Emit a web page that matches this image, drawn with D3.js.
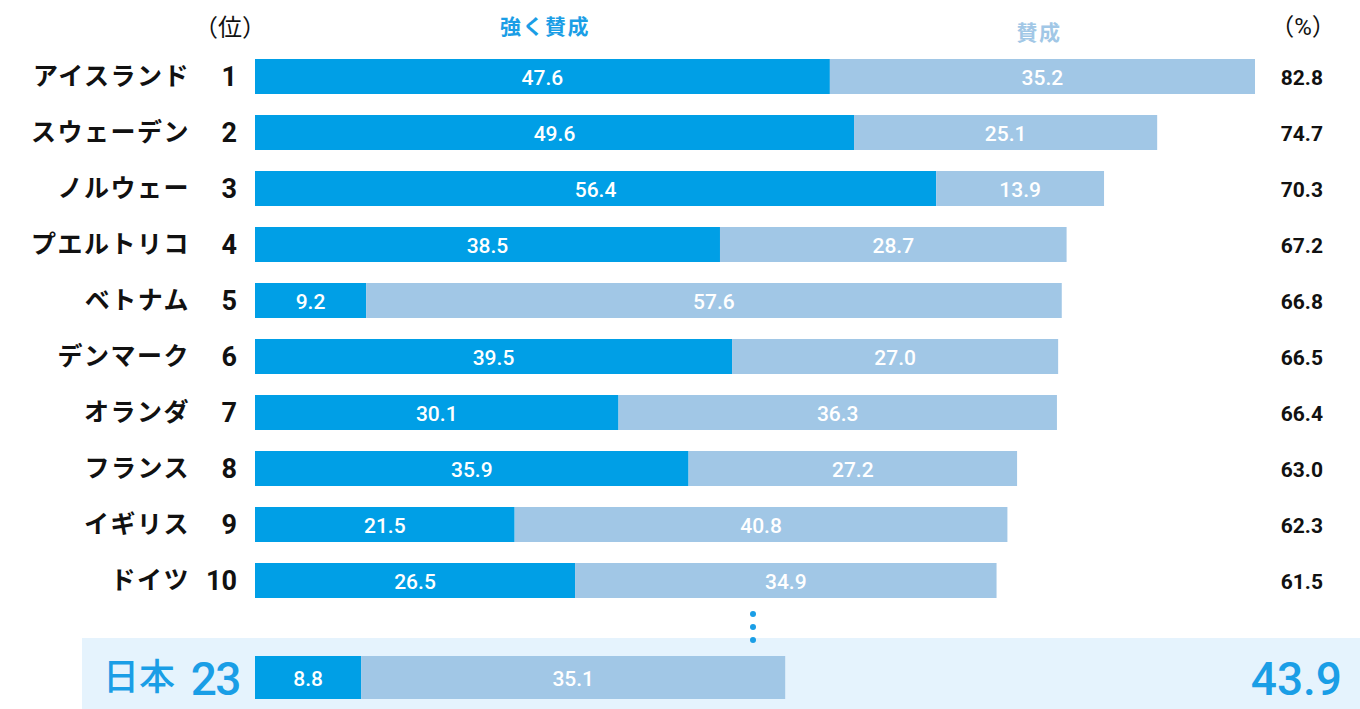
<!DOCTYPE html>
<html><head><meta charset="utf-8">
<script src="https://cdn.jsdelivr.net/npm/d3@7"></script>
<style>
html,body{margin:0;padding:0;background:#fff;}
svg{display:block;}
text{font-family:Roboto,"Noto Sans CJK JP",sans-serif;}
</style></head>
<body>
<svg id="chart" width="1360" height="709"></svg>
<script>
const countries = ["アイスランド","スウェーデン","ノルウェー","プエルトリコ","ベトナム","デンマーク","オランダ","フランス","イギリス","ドイツ"];
const ranks = [1,2,3,4,5,6,7,8,9,10];
const strongAgree = [47.6,49.6,56.4,38.5,9.2,39.5,30.1,35.9,21.5,26.5];
const agree = [35.2,25.1,13.9,28.7,57.6,27.0,36.3,27.2,40.8,34.9];
const totals = [82.8,74.7,70.3,67.2,66.8,66.5,66.4,63.0,62.3,61.5];
const japanLabel = "日本";
const japanRank = 23;
const japanStrong = 8.8;
const japanAgree = 35.1;
const japanTotal = 43.9;
const seriesNames = ["強く賛成","賛成"];

const C_STRONG = "#009fe6", C_AGREE = "#a1c7e6", C_BLUE = "#1a9ee6", C_BG = "#e5f3fd";

const svg = d3.select("#chart");
const x = d3.scaleLinear().domain([0, 82.8]).range([255, 1255]);
const y = d3.scaleBand().domain(d3.range(countries.length)).range([48.5, 608.5]).paddingInner(0.375).paddingOuter(0.1875);

const rows = countries.map((c,i)=>({c, r:ranks[i], s:strongAgree[i], a:agree[i], t:totals[i], i}));

// header
svg.append("text").attr("x",230).attr("y",28).attr("text-anchor","middle").attr("dominant-baseline","central")
  .attr("font-size",24).attr("fill","#111").attr("font-family","'Noto Sans CJK JP'").text("（位）");
svg.append("text").attr("x",545).attr("y",27).attr("text-anchor","middle").attr("dominant-baseline","central")
  .attr("font-size",21).attr("font-weight",700).attr("letter-spacing",1.5).attr("fill",C_BLUE).attr("font-family","'Noto Sans CJK JP'").text(seriesNames[0]);
svg.append("text").attr("x",1039).attr("y",33).attr("text-anchor","middle").attr("dominant-baseline","central")
  .attr("font-size",21).attr("font-weight",700).attr("letter-spacing",1.5).attr("fill",C_AGREE).attr("font-family","'Noto Sans CJK JP'").text(seriesNames[1]);
svg.append("text").attr("x",1303).attr("y",27).attr("text-anchor","middle").attr("dominant-baseline","central")
  .attr("font-size",24).attr("fill","#111").attr("font-family","'Noto Sans CJK JP'").text("（%）");

const g = svg.append("g");
const row = g.selectAll("g.row").data(rows).join("g").attr("class","row");

row.append("rect").attr("x",d=>x(0)).attr("y",d=>y(d.i)).attr("width",d=>x(d.s)-x(0)).attr("height",y.bandwidth()).attr("fill",C_STRONG);
row.append("rect").attr("x",d=>x(d.s)).attr("y",d=>y(d.i)).attr("width",d=>x(d.s+d.a)-x(d.s)).attr("height",y.bandwidth()).attr("fill",C_AGREE);

row.append("text").attr("x",d=>(x(0)+x(d.s))/2).attr("y",d=>y(d.i)+y.bandwidth()/2+1).attr("text-anchor","middle").attr("dominant-baseline","central")
  .attr("font-size",21).attr("font-weight",500).attr("fill","#fff").text(d=>d.s.toFixed(1));
row.append("text").attr("x",d=>(x(d.s)+x(d.s+d.a))/2).attr("y",d=>y(d.i)+y.bandwidth()/2+1).attr("text-anchor","middle").attr("dominant-baseline","central")
  .attr("font-size",21).attr("font-weight",500).attr("fill","#fff").text(d=>d.a.toFixed(1));

row.append("text").attr("x",190).attr("y",d=>y(d.i)+y.bandwidth()/2).attr("text-anchor","end").attr("dominant-baseline","central")
  .attr("font-size",25).attr("font-weight",700).attr("letter-spacing",1.5).attr("fill","#111").attr("font-family","'Noto Sans CJK JP'").text(d=>d.c);
row.append("text").attr("x",237).attr("y",d=>y(d.i)+y.bandwidth()/2).attr("text-anchor","end").attr("dominant-baseline","central")
  .attr("font-size",27).attr("font-weight",700).attr("fill","#111").text(d=>d.r);
row.append("text").attr("x",1323).attr("y",d=>y(d.i)+y.bandwidth()/2+1).attr("text-anchor","end").attr("dominant-baseline","central")
  .attr("font-size",21).attr("font-weight",700).attr("fill","#111").text(d=>d.t.toFixed(1));

// Japan row
const jy = 656, jh = 43;
svg.append("rect").attr("x",82).attr("y",638).attr("width",1360-82).attr("height",71).attr("fill",C_BG);
svg.append("rect").attr("x",x(0)).attr("y",jy).attr("width",x(japanStrong)-x(0)).attr("height",jh).attr("fill",C_STRONG);
svg.append("rect").attr("x",x(japanStrong)).attr("y",jy).attr("width",x(japanStrong+japanAgree)-x(japanStrong)).attr("height",jh).attr("fill",C_AGREE);
svg.append("text").attr("x",(x(0)+x(japanStrong))/2).attr("y",jy+jh/2+1).attr("text-anchor","middle").attr("dominant-baseline","central")
  .attr("font-size",21).attr("font-weight",500).attr("fill","#fff").text(japanStrong.toFixed(1));
svg.append("text").attr("x",(x(japanStrong)+x(japanStrong+japanAgree))/2).attr("y",jy+jh/2+1).attr("text-anchor","middle").attr("dominant-baseline","central")
  .attr("font-size",21).attr("font-weight",500).attr("fill","#fff").text(japanAgree.toFixed(1));
svg.append("text").attr("x",103).attr("y",678).attr("dominant-baseline","central")
  .attr("font-size",36).attr("font-weight",500).attr("fill",C_BLUE).attr("font-family","'Noto Sans CJK JP'").text(japanLabel);
svg.append("text").attr("x",240).attr("y",679).attr("text-anchor","end").attr("dominant-baseline","central")
  .attr("font-size",46).attr("font-weight",500).attr("fill",C_BLUE).attr("letter-spacing",-1.5).text(japanRank);
svg.append("text").attr("x",1342).attr("y",679).attr("text-anchor","end").attr("dominant-baseline","central")
  .attr("font-size",46).attr("font-weight",500).attr("fill",C_BLUE).text(japanTotal.toFixed(1));

// ellipsis dots
svg.selectAll("circle.dot").data([614,627,640]).join("circle").attr("class","dot")
  .attr("cx",753).attr("cy",d=>d).attr("r",3).attr("fill",C_BLUE);
</script>
</body></html>
